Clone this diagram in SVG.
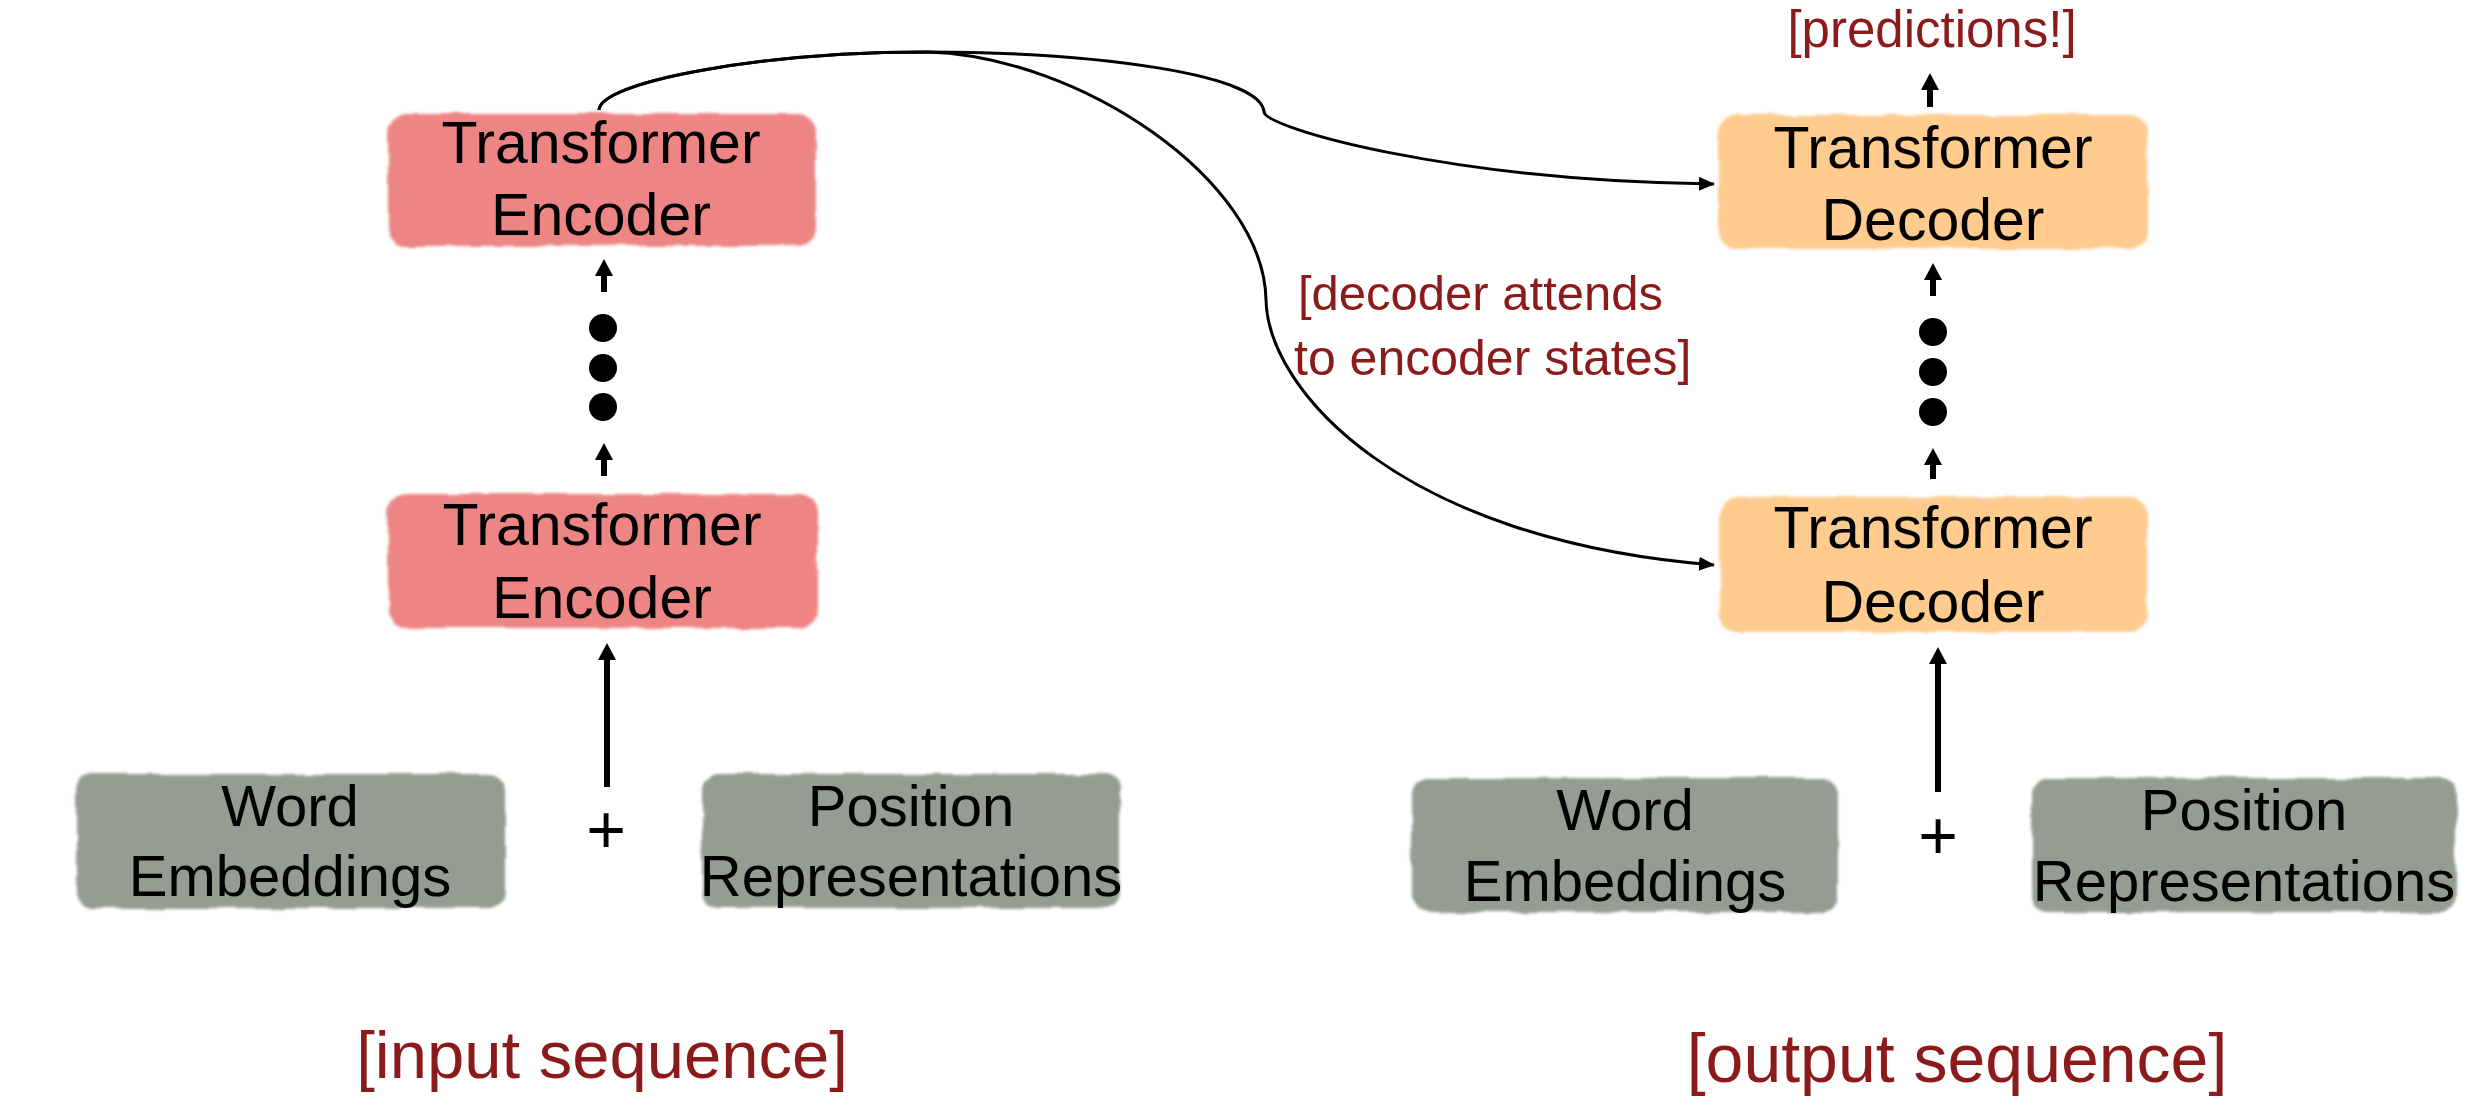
<svg xmlns="http://www.w3.org/2000/svg" width="2485" height="1105" viewBox="0 0 2485 1105">
  <style>
    .lbl { font-family: "Liberation Sans", Arial, sans-serif; font-size: 58px; fill: #000; text-anchor: middle; }
    .big { font-size: 59px; }
    .plus { font-family: "Liberation Sans", Arial, sans-serif; font-size: 68px; fill: #000; text-anchor: middle; }
    .note { font-family: "Liberation Sans", Arial, sans-serif; fill: #8B1A1A; }
    .enc { fill: #ED8585; }
    .dec { fill: #FFCB8E; }
    .emb { fill: #959C91; }
    .curve { fill: none; stroke: #000; stroke-width: 3; }
    .shaft { fill: none; stroke: #000; stroke-width: 6; }
    .dot { fill: #000; }
  </style>
  <defs>
    <filter id="rough" x="-5%" y="-10%" width="110%" height="120%">
      <feTurbulence type="fractalNoise" baseFrequency="0.03" numOctaves="2" seed="3" result="n"/>
      <feDisplacementMap in="SourceGraphic" in2="n" scale="6" xChannelSelector="R" yChannelSelector="G" result="d"/>
      <feGaussianBlur in="d" stdDeviation="1.6"/>
    </filter>
    <marker id="up" markerUnits="userSpaceOnUse" markerWidth="18" markerHeight="18" refX="1" refY="9" orient="auto">
      <path d="M0,0 L17,9 L0,18 Z" fill="#000"/>
    </marker>
    <marker id="tip" markerUnits="userSpaceOnUse" markerWidth="16" markerHeight="14" refX="15" refY="7" orient="auto">
      <path d="M0,0 L16,7 L0,14 Z" fill="#000"/>
    </marker>
  </defs>
  <rect width="2485" height="1105" fill="#fff"/>

  <g id="connectors">
    <path class="curve" marker-end="url(#tip)" d="M599,110 C600,82 760,52 927,52 C1100,52 1262,75 1264,112 C1266,128 1450,181 1714,184"/>
    <path class="curve" marker-end="url(#tip)" d="M599,110 C600,82 760,52 927,52 C1080,56 1264,180 1266,300 C1268,390 1400,540 1714,565"/>
    <line class="shaft" x1="604" y1="292" x2="604" y2="275" marker-end="url(#up)"/>
    <line class="shaft" x1="604" y1="476" x2="604" y2="459" marker-end="url(#up)"/>
    <line class="shaft" x1="607" y1="787" x2="607" y2="659" marker-end="url(#up)"/>
    <line class="shaft" x1="1933" y1="296" x2="1933" y2="279" marker-end="url(#up)"/>
    <line class="shaft" x1="1933" y1="479" x2="1933" y2="464" marker-end="url(#up)"/>
    <line class="shaft" x1="1938" y1="792" x2="1938" y2="663" marker-end="url(#up)"/>
    <line class="shaft" x1="1930" y1="107" x2="1930" y2="89" marker-end="url(#up)"/>
  </g>

  <g id="dots-encoder">
    <circle class="dot" cx="603" cy="328" r="14"/>
    <circle class="dot" cx="603" cy="368" r="14"/>
    <circle class="dot" cx="603" cy="407" r="14"/>
  </g>
  <g id="dots-decoder">
    <circle class="dot" cx="1933" cy="332" r="14"/>
    <circle class="dot" cx="1933" cy="372" r="14"/>
    <circle class="dot" cx="1933" cy="412" r="14"/>
  </g>

  <g id="encoder-top">
    <rect class="enc" x="388" y="114" width="428" height="132" rx="18" filter="url(#rough)"/>
    <text class="lbl big" x="601" y="163">Transformer</text>
    <text class="lbl big" x="601" y="235">Encoder</text>
  </g>
  <g id="encoder-bottom">
    <rect class="enc" x="388" y="494" width="429" height="134" rx="18" filter="url(#rough)"/>
    <text class="lbl big" x="602" y="545">Transformer</text>
    <text class="lbl big" x="602" y="618">Encoder</text>
  </g>
  <g id="decoder-top">
    <rect class="dec" x="1719" y="115" width="428" height="134" rx="18" filter="url(#rough)"/>
    <text class="lbl big" x="1933" y="168">Transformer</text>
    <text class="lbl big" x="1933" y="240">Decoder</text>
  </g>
  <g id="decoder-bottom">
    <rect class="dec" x="1720" y="497" width="427" height="135" rx="18" filter="url(#rough)"/>
    <text class="lbl big" x="1933" y="548">Transformer</text>
    <text class="lbl big" x="1933" y="622">Decoder</text>
  </g>

  <g id="word-emb-in">
    <rect class="emb" x="76" y="774" width="429" height="134" rx="16" filter="url(#rough)"/>
    <text class="lbl" x="290" y="826">Word</text>
    <text class="lbl" x="290" y="896">Embeddings</text>
  </g>
  <g id="pos-rep-in">
    <rect class="emb" x="702" y="774" width="418" height="134" rx="16" filter="url(#rough)"/>
    <text class="lbl" x="911" y="826">Position</text>
    <text class="lbl" x="911" y="896">Representations</text>
  </g>
  <g id="word-emb-out">
    <rect class="emb" x="1412" y="778" width="426" height="134" rx="16" filter="url(#rough)"/>
    <text class="lbl" x="1625" y="830">Word</text>
    <text class="lbl" x="1625" y="901">Embeddings</text>
  </g>
  <g id="pos-rep-out">
    <rect class="emb" x="2032" y="778" width="424" height="134" rx="16" filter="url(#rough)"/>
    <text class="lbl" x="2244" y="830">Position</text>
    <text class="lbl" x="2244" y="901">Representations</text>
  </g>

  <g id="plus-in"><text class="plus" x="606" y="853">+</text></g>
  <g id="plus-out"><text class="plus" x="1938" y="859">+</text></g>

  <g id="notes">
    <text class="note" x="1932" y="47" font-size="51" text-anchor="middle">[predictions!]</text>
    <text class="note" x="1298" y="310" font-size="49">[decoder attends</text>
    <text class="note" x="1294" y="375" font-size="50">to encoder states]</text>
    <text class="note" x="602" y="1078" font-size="67" text-anchor="middle">[input sequence]</text>
    <text class="note" x="1957" y="1082" font-size="68" text-anchor="middle">[output sequence]</text>
  </g>
</svg>
